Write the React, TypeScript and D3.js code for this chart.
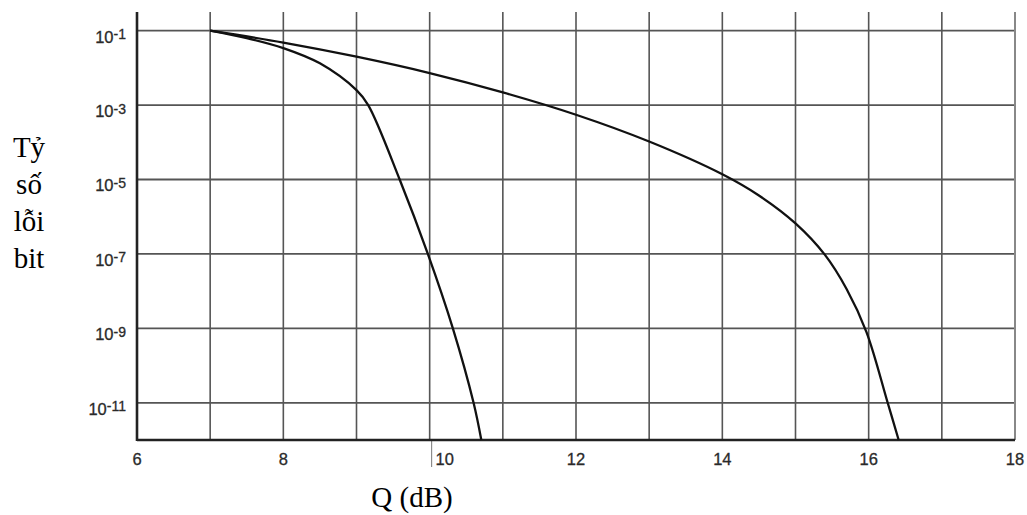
import React from "react";
import * as d3 from "d3";

// ---- data ----
const xTickLabels = [6, 8, 10, 12, 14, 16, 18];
const xGridValues = [7, 8, 9, 10, 11, 12, 13, 14, 15, 16, 17, 18];
const yTickExponents = [-1, -3, -5, -7, -9, -11];

// steep curve (Q in dB, log10 BER)
const curve1Q = [7, 7.5, 8, 8.5, 9, 9.16, 9.59, 9.975, 10.317, 10.6, 10.706];
const curve1Exp = [-1, -1.2, -1.47, -1.88, -2.6, -3, -5, -7, -9, -11, -12];

// gentle curve
const curve2Q = [7, 8, 9, 10, 11, 12, 13, 14, 14.5, 15, 15.4, 15.7, 15.97, 16.26, 16.41];
const curve2Exp = [-1, -1.32, -1.7, -2.14, -2.66, -3.26, -3.98, -4.86, -5.43, -6.18, -7.02, -7.95, -9.1, -11, -12];

const yLabelLines = ["Tỷ", "số", "lỗi", "bit"];
const xLabel = "Q (dB)";

export default function App() {
  const W = 1027;
  const H = 515;
  const left = 137;
  const right = 1015;
  const top = 12;
  const bottom = 440;

  const x = d3.scaleLinear().domain([6, 18]).range([left, right]);
  const y = d3.scaleLog().domain([Math.pow(10, -0.5), 1e-12]).range([top, bottom]);

  const line = d3
    .line<[number, number]>()
    .x((d) => x(d[0]))
    .y((d) => y(Math.pow(10, d[1])))
    .curve(d3.curveCatmullRom.alpha(0.5));

  const c1 = curve1Q.map((q, i) => [q, curve1Exp[i]] as [number, number]);
  const c2 = curve2Q.map((q, i) => [q, curve2Exp[i]] as [number, number]);

  const tickFont = "Arial, 'Liberation Sans', Helvetica, sans-serif";
  const serif = "'Times New Roman', 'Liberation Serif', serif";

  return (
    <svg
      width={W}
      height={H}
      style={{ position: "absolute", left: 0, top: 0, background: "#fff" }}
    >
      <rect x={0} y={0} width={W} height={H} fill="#fff" />
      {/* horizontal grid */}
      {yTickExponents.map((e) => (
        <line
          key={"h" + e}
          x1={left}
          x2={right}
          y1={y(Math.pow(10, e))}
          y2={y(Math.pow(10, e))}
          stroke="#555"
          strokeWidth={1.8}
        />
      ))}
      {/* vertical grid */}
      {xGridValues.map((v) => (
        <line
          key={"v" + v}
          x1={x(v)}
          x2={x(v)}
          y1={top}
          y2={bottom}
          stroke={v === 18 ? "#888" : "#555"}
          strokeWidth={v === 18 ? 2 : 1.6}
        />
      ))}
      {/* stray tick below axis at 10 */}
      <line x1={x(10) + 2} x2={x(10) + 2} y1={bottom} y2={bottom + 27} stroke="#777" strokeWidth={1} />
      {/* axes */}
      <line x1={left} x2={left} y1={top} y2={bottom + 1} stroke="#222" strokeWidth={2.6} />
      <line x1={left} x2={right} y1={bottom} y2={bottom} stroke="#222" strokeWidth={2.6} />

      {/* curves */}
      <path d={line(c1) || ""} fill="none" stroke="#111" strokeWidth={2.3} />
      <path d={line(c2) || ""} fill="none" stroke="#111" strokeWidth={2.3} />

      {/* y tick labels */}
      {yTickExponents.map((e) => (
        <text
          key={"yt" + e}
          x={126}
          y={y(Math.pow(10, e)) + 12}
          textAnchor="end"
          fontFamily={tickFont}
          fontSize={16.5}
          fill="#2a2a2a"
          stroke="#2a2a2a"
          strokeWidth={0.3}
        >
          <tspan>10</tspan>
          <tspan dy={-3.5} fontSize={14}>{"-" + Math.abs(e)}</tspan>
        </text>
      ))}

      {/* x tick labels */}
      {xTickLabels.map((v) => (
        <text
          key={"xt" + v}
          x={x(v) + (v === 10 ? 15 : 0)}
          y={bottom + 25}
          textAnchor="middle"
          fontFamily={tickFont}
          fontSize={16.5}
          fill="#2a2a2a"
          stroke="#2a2a2a"
          strokeWidth={0.3}
        >
          {v}
        </text>
      ))}

      {/* y axis label */}
      {yLabelLines.map((s, i) => (
        <text
          key={"yl" + i}
          x={29}
          y={157 + i * 36.9}
          textAnchor="middle"
          fontFamily={serif}
          fontSize={29}
          fill="#000"
        >
          {s}
        </text>
      ))}

      {/* x axis label */}
      <text x={412} y={507} textAnchor="middle" fontFamily={serif} fontSize={29} fill="#000">
        {xLabel}
      </text>
    </svg>
  );
}
